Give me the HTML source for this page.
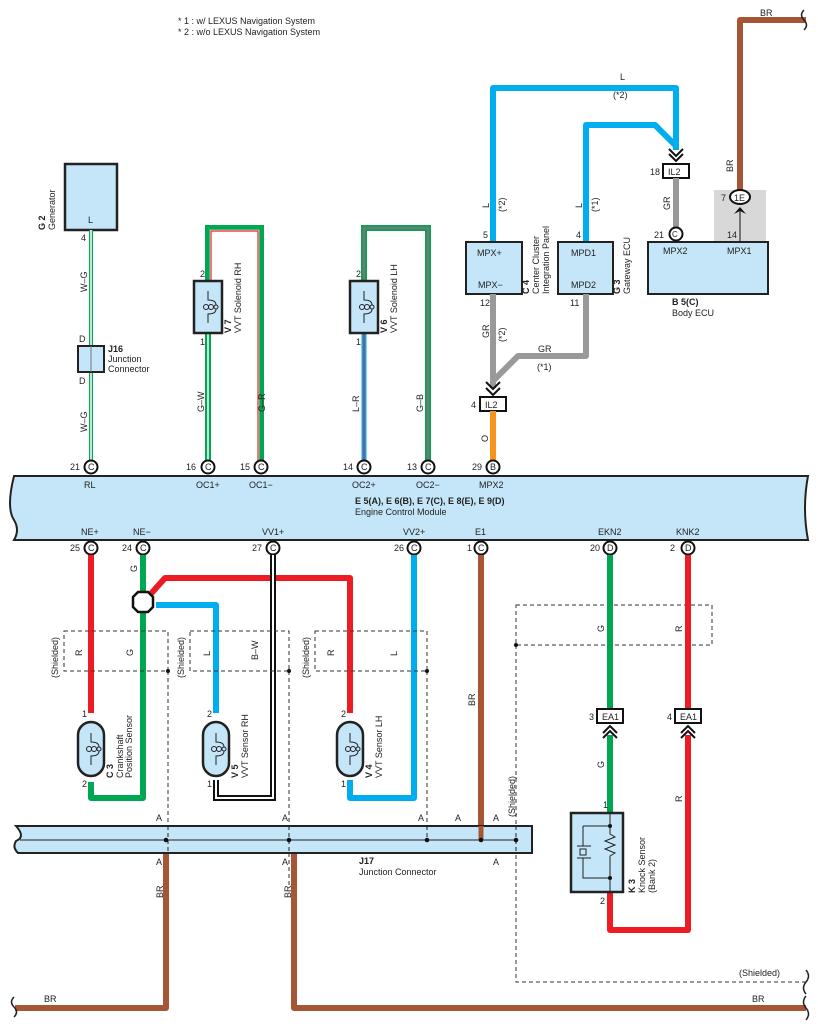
<!DOCTYPE html>
<html><head><meta charset="utf-8"><style>
html,body{margin:0;padding:0;background:#fff;}
svg{display:block;font-family:"Liberation Sans",sans-serif;}
text{font-size:9px;fill:#222;}
.b{font-weight:bold;}
</style></head><body>
<svg width="818" height="1030" viewBox="0 0 818 1030" xmlns="http://www.w3.org/2000/svg">
<defs>
<g id="coil" fill="none" stroke="#222" stroke-width="1"><path d="M0,-16 V-7 Q8,-7 8,-2 M0,16 V7 Q8,7 8,2"/><circle cx="-2" cy="0" r="2.5"/><circle cx="3" cy="0" r="2.5"/><circle cx="8" cy="0" r="2"/></g>
</defs>
<text x="178" y="24">* 1 : w/ LEXUS Navigation System</text>
<text x="178" y="35">* 2 : w/o LEXUS Navigation System</text>

<path d="M740,198 V20 H806" fill="none" stroke="#a65535" stroke-width="6" stroke-linejoin="round"/>
<text x="760" y="16">BR</text>
<path d="M804,10 q-5,5 0,10 q5,5 0,10" fill="none" stroke="#222" stroke-width="1.5"/>
<text transform="translate(733,172) rotate(-90)">BR</text>

<path d="M493,242 V88 H676 V150" fill="none" stroke="#00aeef" stroke-width="6" stroke-linejoin="round"/>
<path d="M586,242 V125 H655 L676,146" fill="none" stroke="#00aeef" stroke-width="6" stroke-linejoin="round"/>
<text x="620" y="80">L</text><text x="613" y="98">(*2)</text>
<text transform="translate(489,208) rotate(-90)">L</text><text transform="translate(505,212) rotate(-90)">(*2)</text>
<text transform="translate(582,208) rotate(-90)">L</text><text transform="translate(598,212) rotate(-90)">(*1)</text>
<path d="M669,149 l7,7 l7,-7 M669,154 l7,7 l7,-7" fill="none" stroke="#111" stroke-width="2"/>
<rect x="663" y="164" width="26" height="14" fill="#fff" stroke="#111" stroke-width="2"/><text x="668" y="175">IL2</text><text x="650" y="175">18</text>
<path d="M676,178 V228" stroke="#999" stroke-width="6"/>
<text transform="translate(670,210) rotate(-90)">GR</text>

<rect x="714" y="190" width="52" height="52" fill="#d8d8d8"/>
<ellipse cx="740" cy="197" rx="10" ry="7" fill="#fff" stroke="#111" stroke-width="2"/><text x="734" y="201">1E</text><text x="721" y="201">7</text>
<path d="M740,242 V208" stroke="#111" stroke-width="1"/><path d="M734,214 l6,-7 l6,7 l-6,-3z" fill="#111"/>
<text x="727" y="238">14</text>

<rect x="466" y="242" width="56" height="52" fill="#c5e6f8" stroke="#222" stroke-width="2"/>
<text x="477" y="256">MPX+</text><text x="478" y="288">MPX−</text><text x="483" y="238">5</text><text x="480" y="306">12</text>
<text transform="translate(529,294) rotate(-90)" class="b">C 4</text>
<text transform="translate(539,294) rotate(-90)">Center Cluster</text><text transform="translate(549,294) rotate(-90)">Integration Panel</text>
<rect x="558" y="242" width="55" height="52" fill="#c5e6f8" stroke="#222" stroke-width="2"/>
<text x="571" y="256">MPD1</text><text x="571" y="288">MPD2</text><text x="576" y="238">4</text><text x="570" y="306">11</text>
<text transform="translate(620,294) rotate(-90)" class="b">G 3</text><text transform="translate(630,294) rotate(-90)">Gateway ECU</text>
<rect x="648" y="242" width="120" height="52" fill="#c5e6f8" stroke="#222" stroke-width="2"/>
<text x="663" y="254">MPX2</text><text x="727" y="254">MPX1</text>
<circle cx="676" cy="234" r="6.5" fill="#fff" stroke="#111" stroke-width="2"/><text x="672" y="237" style="font-size:8px">C</text><text x="654" y="238">21</text>
<text x="672" y="305" class="b">B 5(C)</text><text x="672" y="316">Body ECU</text>

<path d="M493,294 V388 M586,294 V356 H518 L493,381" fill="none" stroke="#999" stroke-width="6" stroke-linejoin="round"/>
<text transform="translate(489,338) rotate(-90)">GR</text><text transform="translate(505,342) rotate(-90)">(*2)</text>
<text x="538" y="352">GR</text><text x="537" y="370">(*1)</text>
<path d="M486,382 l7,7 l7,-7 M486,388 l7,7 l7,-7" fill="none" stroke="#111" stroke-width="2"/>
<rect x="480" y="397" width="26" height="14" fill="#fff" stroke="#111" stroke-width="2"/><text x="485" y="408">IL2</text><text x="471" y="408">4</text>
<path d="M493,411 V460" stroke="#f7941d" stroke-width="6"/><text transform="translate(488,442) rotate(-90)">O</text>

<rect x="65" y="164" width="52" height="66" fill="#c5e6f8" stroke="#222" stroke-width="2.5"/>
<text x="88" y="223">L</text>
<text transform="translate(45,230) rotate(-90)" class="b">G 2</text><text transform="translate(55,230) rotate(-90)">Generator</text>
<path d="M91,230 V461" stroke="#00a651" stroke-width="4"/><path d="M91,230 V461" stroke="#fff" stroke-width="1.5"/>
<text x="81" y="241">4</text><text transform="translate(87,292) rotate(-90)">W–G</text><text transform="translate(87,432) rotate(-90)">W–G</text>
<rect x="78" y="346" width="26" height="26" fill="#c5e6f8" stroke="#222" stroke-width="2"/><path d="M91,346V372" stroke="#777"/>
<text x="79" y="342">D</text><text x="79" y="384">D</text>
<text x="108" y="352" class="b">J16</text><text x="108" y="362">Junction</text><text x="108" y="372">Connector</text>

<path d="M208,461 V228 H261 V461" fill="none" stroke="#00a651" stroke-width="6"/>
<path d="M211,333 V231 H258 V461" fill="none" stroke="#fff" stroke-width="2.5"/>
<path d="M211,281 V231 H258 V461" fill="none" stroke="#ed1c24" stroke-width="1.2"/>
<path d="M208,333 V461" stroke="#fff" stroke-width="1.5"/>
<rect x="194" y="281" width="28" height="52" fill="#c5e6f8" stroke="#222" stroke-width="2.5"/>
<use href="#coil" x="208" y="307"/>
<text x="200" y="277">2</text><text x="200" y="345">1</text>
<text transform="translate(231,333) rotate(-90)" class="b">V 7</text><text transform="translate(241,333) rotate(-90)">VVT Solenoid RH</text>
<text transform="translate(204,412) rotate(-90)">G–W</text><text transform="translate(265,412) rotate(-90)">G–R</text>

<path d="M364,333 V461" stroke="#00aeef" stroke-width="5"/><path d="M364,333 V461" stroke="#ed1c24" stroke-width="1.2"/>
<path d="M364,281 V228 H428 V461" fill="none" stroke="#00a651" stroke-width="6"/>
<path d="M364,281 V228 H428 V461" fill="none" stroke="#777" stroke-width="2.5"/>
<rect x="350" y="281" width="28" height="52" fill="#c5e6f8" stroke="#222" stroke-width="2.5"/>
<use href="#coil" x="364" y="307"/>
<text x="356" y="277">2</text><text x="356" y="345">1</text>
<text transform="translate(387,333) rotate(-90)" class="b">V 6</text><text transform="translate(397,333) rotate(-90)">VVT Solenoid LH</text>
<text transform="translate(359,412) rotate(-90)">L–R</text><text transform="translate(423,412) rotate(-90)">G–B</text>

<path d="M14,476 H808 q-6,32 0,64 H14 q6,-10 0,-20 q-8,-12 0,-44z" fill="#c5e6f8" stroke="#222" stroke-width="2"/>
<g style="font-size:8px">
<circle cx="91" cy="467" r="6.5" fill="#fff" stroke="#111" stroke-width="2"/><text x="88" y="470">C</text>
<circle cx="208" cy="467" r="6.5" fill="#fff" stroke="#111" stroke-width="2"/><text x="205" y="470">C</text>
<circle cx="261" cy="467" r="6.5" fill="#fff" stroke="#111" stroke-width="2"/><text x="258" y="470">C</text>
<circle cx="364" cy="467" r="6.5" fill="#fff" stroke="#111" stroke-width="2"/><text x="361" y="470">C</text>
<circle cx="428" cy="467" r="6.5" fill="#fff" stroke="#111" stroke-width="2"/><text x="425" y="470">C</text>
<circle cx="493" cy="467" r="6.5" fill="#fff" stroke="#111" stroke-width="2"/><text x="490" y="470">B</text>
<circle cx="91" cy="548" r="6.5" fill="#fff" stroke="#111" stroke-width="2"/><text x="88" y="551">C</text>
<circle cx="143" cy="548" r="6.5" fill="#fff" stroke="#111" stroke-width="2"/><text x="140" y="551">C</text>
<circle cx="273" cy="548" r="6.5" fill="#fff" stroke="#111" stroke-width="2"/><text x="270" y="551">C</text>
<circle cx="414" cy="548" r="6.5" fill="#fff" stroke="#111" stroke-width="2"/><text x="411" y="551">C</text>
<circle cx="481" cy="548" r="6.5" fill="#fff" stroke="#111" stroke-width="2"/><text x="478" y="551">C</text>
<circle cx="610" cy="548" r="6.5" fill="#fff" stroke="#111" stroke-width="2"/><text x="607" y="551">D</text>
<circle cx="688" cy="548" r="6.5" fill="#fff" stroke="#111" stroke-width="2"/><text x="685" y="551">D</text>
</g>
<text x="70" y="470">21</text><text x="186" y="470">16</text><text x="240" y="470">15</text><text x="343" y="470">14</text><text x="407" y="470">13</text><text x="472" y="470">29</text>
<text x="84" y="488">RL</text><text x="196" y="488">OC1+</text><text x="249" y="488">OC1−</text><text x="352" y="488">OC2+</text><text x="416" y="488">OC2−</text><text x="479" y="488">MPX2</text>
<text x="355" y="504" class="b">E 5(A), E 6(B), E 7(C), E 8(E), E 9(D)</text>
<text x="355" y="515">Engine Control Module</text>
<text x="81" y="535">NE+</text><text x="133" y="535">NE−</text><text x="262" y="535">VV1+</text><text x="403" y="535">VV2+</text><text x="475" y="535">E1</text><text x="598" y="535">EKN2</text><text x="676" y="535">KNK2</text>
<text x="70" y="551">25</text><text x="122" y="551">24</text><text x="252" y="551">27</text><text x="394" y="551">26</text><text x="467" y="551">1</text><text x="590" y="551">20</text><text x="670" y="551">2</text>

<path d="M91,555 V713" stroke="#ed1c24" stroke-width="6"/>
<path d="M143,555 V798 H91 V782" fill="none" stroke="#00a651" stroke-width="6" stroke-linejoin="round"/>
<path d="M148,597 L165,578 H350 V713" fill="none" stroke="#ed1c24" stroke-width="6" stroke-linejoin="round"/>
<path d="M156,605 H216 V713" fill="none" stroke="#00aeef" stroke-width="6" stroke-linejoin="round"/>
<path d="M350,780 V798 H414 V555" fill="none" stroke="#00aeef" stroke-width="6" stroke-linejoin="round"/>
<path d="M216,780 V798 H273 V555" fill="none" stroke="#111" stroke-width="6"/>
<path d="M216,780 V798 H273 V555" fill="none" stroke="#fff" stroke-width="2"/>
<path d="M481,555 V840" stroke="#a65535" stroke-width="6"/>
<path d="M138,592 l10,0 l5,5 l0,10 l-5,5 l-10,0 l-5,-5 l0,-10z" fill="#fff" stroke="#111" stroke-width="2.5"/>
<text transform="translate(137,572) rotate(-90)">G</text>

<g fill="none" stroke="#333" stroke-width="1" stroke-dasharray="4,3">
<rect x="64" y="631" width="104" height="40"/><rect x="190" y="631" width="99" height="40"/><rect x="315" y="631" width="112" height="40"/>
<path d="M168,671 V885 M289,671 V885 M427,671 V840"/>
<rect x="516" y="605" width="196" height="40"/>
<path d="M516,645 V982 H806"/>
</g>
<text transform="translate(58,678) rotate(-90)">(Shielded)</text><text transform="translate(184,678) rotate(-90)">(Shielded)</text><text transform="translate(309,678) rotate(-90)">(Shielded)</text>
<text transform="translate(515,817) rotate(-90)">(Shielded)</text><text x="739" y="976">(Shielded)</text>
<text transform="translate(82,656) rotate(-90)">R</text><text transform="translate(133,656) rotate(-90)">G</text>
<text transform="translate(210,656) rotate(-90)">L</text><text transform="translate(258,660) rotate(-90)">B–W</text>
<text transform="translate(334,656) rotate(-90)">R</text><text transform="translate(397,656) rotate(-90)">L</text>
<text transform="translate(475,706) rotate(-90)">BR</text>
<text transform="translate(604,632) rotate(-90)">G</text><text transform="translate(682,632) rotate(-90)">R</text>
<circle cx="168" cy="671" r="2" fill="#111"/><circle cx="289" cy="671" r="2" fill="#111"/><circle cx="427" cy="671" r="2" fill="#111"/><circle cx="516" cy="645" r="2" fill="#111"/>

<g fill="#c5e6f8" stroke="#222" stroke-width="2.5">
<rect x="78" y="722" width="26" height="54" rx="13"/><rect x="203" y="722" width="26" height="54" rx="13"/><rect x="337" y="722" width="26" height="54" rx="13"/>
</g>
<use href="#coil" x="91" y="749"/><use href="#coil" x="216" y="749"/><use href="#coil" x="350" y="749"/>
<text x="82" y="717">1</text><text x="82" y="787">2</text><text x="207" y="717">2</text><text x="207" y="787">1</text><text x="341" y="717">2</text><text x="341" y="787">1</text>
<text transform="translate(113,778) rotate(-90)" class="b">C 3</text><text transform="translate(123,778) rotate(-90)">Crankshaft</text><text transform="translate(132,778) rotate(-90)">Position Sensor</text>
<text transform="translate(238,778) rotate(-90)" class="b">V 5</text><text transform="translate(248,778) rotate(-90)">VVT Sensor RH</text>
<text transform="translate(372,778) rotate(-90)" class="b">V 4</text><text transform="translate(382,778) rotate(-90)">VVT Sensor LH</text>

<path d="M166,853 V1008 H15 M294,853 V1008 H806" fill="none" stroke="#a65535" stroke-width="6" stroke-linejoin="round"/>
<text transform="translate(163,898) rotate(-90)">BR</text><text transform="translate(291,898) rotate(-90)">BR</text>
<text x="44" y="1002">BR</text><text x="752" y="1002">BR</text>
<path d="M14,997 q-5,5 0,10 q5,5 0,10 M806,970 q5,6 0,12 q-5,6 0,12 M806,996 q-5,6 0,12 q5,6 0,12" fill="none" stroke="#222" stroke-width="1.5"/>

<path d="M18,826 H532 V853 H18 q-6,-6 -2,-12 q10,-4 0,-15z" fill="#c5e6f8" stroke="#222" stroke-width="2"/>
<path d="M20,840 H516" stroke="#222" stroke-width="1"/>
<path d="M481,826 V840" stroke="#a65535" stroke-width="5"/>
<path d="M168,826 V853 M289,826 V853 M427,826 V840 M516,826 V853" stroke="#222" stroke-dasharray="4,3"/>
<g fill="#111"><circle cx="166" cy="840" r="2.3"/><circle cx="289" cy="840" r="2.3"/><circle cx="427" cy="840" r="2.3"/><circle cx="481" cy="840" r="2.3"/><circle cx="516" cy="840" r="2.3"/></g>
<text x="156" y="821">A</text><text x="282" y="821">A</text><text x="418" y="821">A</text><text x="455" y="821">A</text><text x="493" y="821">A</text><text x="156" y="865">A</text><text x="282" y="865">A</text><text x="493" y="865">A</text>
<text x="359" y="864" class="b">J17</text><text x="359" y="875">Junction Connector</text>

<path d="M610,555 V709 M610,735 V813" stroke="#00a651" stroke-width="6"/>
<path d="M688,555 V709 M688,735 V930 H610 V892" fill="none" stroke="#ed1c24" stroke-width="6" stroke-linejoin="round"/>
<rect x="597" y="709" width="26" height="14" fill="#fff" stroke="#111" stroke-width="2"/><text x="602" y="720">EA1</text><text x="589" y="720">3</text>
<rect x="675" y="709" width="26" height="14" fill="#fff" stroke="#111" stroke-width="2"/><text x="680" y="720">EA1</text><text x="667" y="720">4</text>
<path d="M603,733 l7,-7 l7,7 M603,738 l7,-7 l7,7 M681,733 l7,-7 l7,7 M681,738 l7,-7 l7,7" fill="none" stroke="#111" stroke-width="2"/>
<text transform="translate(604,768) rotate(-90)">G</text><text transform="translate(682,802) rotate(-90)">R</text>
<rect x="571" y="813" width="52" height="79" fill="#c5e6f8" stroke="#222" stroke-width="2.5"/>
<path d="M610,813 V826 M610,878 V892 M583,826 H610 V834 l5,3 l-10,4 l10,4 l-10,4 l10,4 l-5,3 V878 H583 V858 M583,826 V846 M577,846 H591 M577,858 H591" fill="none" stroke="#222" stroke-width="1"/>
<rect x="580" y="849" width="6" height="6" fill="none" stroke="#222"/>
<circle cx="610" cy="826" r="2" fill="#111"/><circle cx="610" cy="878" r="2" fill="#111"/>
<text x="603" y="808">1</text><text x="600" y="904">2</text>
<text transform="translate(635,893) rotate(-90)" class="b">K 3</text><text transform="translate(645,893) rotate(-90)">Knock Sensor</text><text transform="translate(655,893) rotate(-90)">(Bank 2)</text>
</svg>
</body></html>
